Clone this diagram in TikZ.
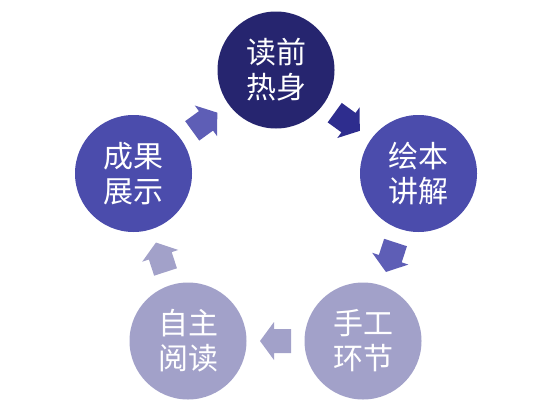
\documentclass[tikz,border=0pt]{standalone}
\usepackage{fontspec}
\newfontfamily\cjk{Noto Sans CJK SC}
\usetikzlibrary{calc}
\definecolor{navy}{HTML}{26256F}
\definecolor{violet}{HTML}{4B4CAC}
\definecolor{lilac}{HTML}{A2A1C9}
\definecolor{darkarr}{HTML}{2E2D8E}
\definecolor{midarr}{HTML}{5E5EB6}
\tikzset{
	step circle/.style={circle,minimum size=117pt,inner sep=0pt,text=white,align=center,font=\cjk\fontsize{30}{35}\selectfont},
	fatarrow/.pic={\fill (-15.5,-12) -- (1.5,-12) -- (1.5,-19) -- (15.5,0) -- (1.5,19) -- (1.5,12) -- (-15.5,12) -- cycle;}
}
\begin{document}
\begin{tikzpicture}[x=1pt,y=-1pt]
	\useasboundingbox (0,0) rectangle (553,415);
	\node[step circle,fill=navy] (warm) at (276,70) {读前\\热身};
	\node[step circle,fill=violet] (tell) at (418.5,173.5) {绘本\\讲解};
	\node[step circle,fill=lilac] (hand) at (363,341) {手工\\环节};
	\node[step circle,fill=lilac] (self) at (188,341) {自主\\阅读};
	\node[step circle,fill=violet] (show) at (133.5,173.5) {成果\\展示};
	% arrows between the steps
	\pic[darkarr,rotate=-36] at ($(warm)!0.5!(tell)$) {fatarrow};
	\pic[midarr,rotate=-108] at ($(tell)!0.5!(hand)$) {fatarrow};
	\pic[lilac,rotate=180] at ($(hand)!0.5!(self)$) {fatarrow};
	\pic[lilac,rotate=108] at ($(self)!0.5!(show)$) {fatarrow};
	\pic[midarr,rotate=36] at ($(show)!0.5!(warm)$) {fatarrow};
\end{tikzpicture}
\end{document}
